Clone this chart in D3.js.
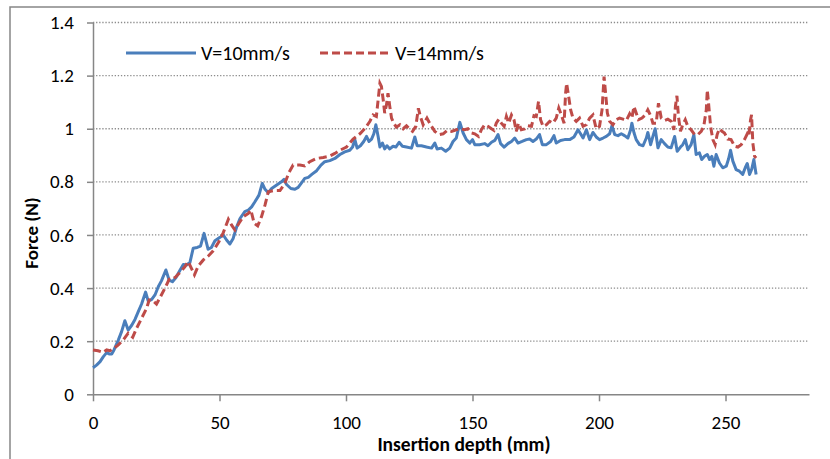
<!DOCTYPE html>
<html>
<head>
<meta charset="utf-8">
<script src="https://cdn.jsdelivr.net/npm/d3@7"></script>
<style>
  body { margin: 0; background: #fff; }
  svg text { font-family: Carlito, Calibri, Lato, sans-serif; fill: #000; }
</style>
</head>
<body>
<svg width="830" height="459"></svg>
<script>
// V=10mm/s
const depth10 = [0,1.4,2.8,4.1,5.4,6.4,7.4,8.3,10,11.3,12.6,13.9,15.3,16.6,17.9,19.2,20.8,21.8,23.2,24.5,25.8,27.1,28.8,30.1,31.4,32.8,34.1,35.7,37,38.3,39.6,41.2,42.5,43.9,45.5,46.8,48.2,50.2,51.5,52.8,54.1,55.4,56.8,58.1,60,61.4,62.7,64,65.6,66.9,68,69.3,70.6,72.6,74.5,75.5,76.5,78.2,79.8,81.1,82.7,83.7,85.1,86.6,88.4,90.1,91.6,93.6,95.6,97.6,99.5,101.5,102.6,103.5,104.4,105.7,107,108.1,109.1,110.1,111,111.8,112.7,113.4,114.4,115.3,116.2,117.3,118.6,119.7,121,122.3,123.9,125.9,127.2,128.1,129.8,131.8,133.8,135.1,136,137.7,139.4,141,142.3,143.6,145,146.3,147.6,148.9,150,150.9,152.8,154.8,156.1,157.5,158.8,160.1,161.1,162.5,164,165.4,166.7,168,169.6,171.3,172.6,173.9,175.2,176.5,177.6,179.2,180.9,182.2,183.1,184.8,186.4,188.4,190.1,191.7,192.7,193.7,195,196.3,197.6,198.9,200.2,201.6,202.9,204.2,205.1,206.2,207.5,208.8,210.1,211.4,212.5,213,213.8,214.7,216,217.4,218.7,219.3,220.4,221.3,222.2,223.3,224.6,225.9,227.2,228.5,229.9,230.9,232.2,233.1,234.1,235.1,236.4,237.5,238.4,239.7,240.6,241.7,242.8,243.7,244.6,245.4,246.3,247.6,248.9,250.3,251.2,252,252.9,254.2,255.5,256.8,257.8,258.6,259.5,260.4,261.2,262.1]
const force10 = [0.10,0.11,0.123,0.142,0.157,0.152,0.152,0.167,0.204,0.236,0.277,0.242,0.26,0.282,0.311,0.34,0.385,0.352,0.357,0.374,0.405,0.428,0.468,0.43,0.424,0.44,0.462,0.489,0.487,0.496,0.55,0.553,0.558,0.606,0.546,0.553,0.578,0.591,0.6,0.581,0.566,0.587,0.631,0.662,0.688,0.694,0.706,0.725,0.75,0.794,0.772,0.759,0.775,0.788,0.8,0.809,0.79,0.775,0.772,0.779,0.8,0.813,0.817,0.829,0.842,0.863,0.876,0.88,0.888,0.903,0.913,0.919,0.931,0.959,0.927,0.936,0.952,0.971,0.952,0.961,0.981,1.015,0.971,0.931,0.946,0.924,0.936,0.924,0.934,0.931,0.949,0.934,0.931,0.927,0.969,0.936,0.936,0.931,0.927,0.946,0.924,0.927,0.915,0.927,0.952,0.965,1.024,0.984,0.959,0.946,0.959,0.94,0.94,0.944,0.936,0.949,0.956,0.978,0.944,0.931,0.944,0.952,0.965,0.946,0.952,0.959,0.961,0.952,0.961,0.978,0.94,0.94,0.952,0.974,0.946,0.956,0.959,0.959,0.969,0.996,0.981,0.965,0.996,0.959,0.986,0.969,0.959,0.965,0.971,0.981,1.011,0.978,0.974,0.981,0.974,0.965,0.996,1.021,0.986,0.959,0.94,0.936,0.965,0.986,0.94,0.971,1.0,0.928,0.959,0.944,0.931,0.928,0.971,0.915,0.931,0.94,0.959,0.921,0.94,0.978,0.903,0.909,0.884,0.896,0.903,0.884,0.896,0.859,0.903,0.871,0.853,0.859,0.886,0.919,0.878,0.846,0.84,0.828,0.853,0.869,0.828,0.849,0.884,0.828]

// V=14mm/s
const depth14 = [0,2,4,5.4,6.7,8.3,10,12,13.9,15.7,17.2,19.2,21.2,22.2,23.6,25.1,26.7,28.4,30.1,31.4,32.8,34.3,36.3,37.6,40.1,41.6,43.6,45.5,47.5,49.8,51.5,53.5,54.8,56.1,57.7,59.4,61.4,62.4,63.7,65.1,66.6,68,69.3,71.2,73.9,75.8,77.4,79.1,81.8,83.7,85.7,88.4,91,93.6,95.6,97.6,100.2,102.8,105.5,107.4,109.4,110.7,112,112.7,113.4,114,114.7,115.3,116,116.6,117.3,118,118.9,119.9,121.3,122.6,123.9,125,126.3,127.6,128.6,129.4,130.5,132,133.4,135.1,136.8,138.4,140,141.7,143.6,145.2,146.9,148.2,149.6,150.9,152.4,153.5,154.8,156.1,157.5,158.5,159.4,160.4,161.4,162.5,163.4,164.3,165.4,166.4,167.3,168.2,169.3,170.6,171.9,173.3,174.3,175.2,176.1,176.9,177.9,179.2,180.5,181.8,183.1,184.1,185.1,186.2,186.8,187.2,188,188.8,189.7,191,192.3,193.7,195,196.3,197.6,198.9,200.2,201.2,202,202.6,203.3,204.2,205.5,206.8,208.1,209.5,210.8,212.1,213,213.8,214.7,215.6,217,218.3,219.3,220.4,221.3,222.6,223.5,224.6,225.9,227.2,228.5,229.6,230.2,230.8,231.4,232.2,233.1,234.1,235.1,236.4,237.8,239.1,240.4,241.4,242.4,242.8,243.3,244.1,245,245.9,246.7,247.6,248.6,249.6,250.9,252.2,253.6,254.9,256.2,257.5,258.6,259.2,259.9,260.3,260.8,261.5,262.1]
const force14 = [0.167,0.164,0.158,0.167,0.164,0.173,0.186,0.205,0.23,0.215,0.248,0.286,0.324,0.355,0.353,0.34,0.368,0.399,0.433,0.433,0.443,0.458,0.48,0.5,0.45,0.483,0.506,0.52,0.54,0.575,0.609,0.659,0.637,0.619,0.644,0.669,0.681,0.694,0.644,0.634,0.669,0.713,0.763,0.767,0.767,0.794,0.834,0.863,0.863,0.86,0.876,0.888,0.892,0.897,0.907,0.919,0.931,0.961,0.981,1.0,1.027,1.052,1.046,1.109,1.171,1.159,1.109,1.059,1.09,1.134,1.084,1.04,1.021,1.006,1.015,1.0,1.011,1.0,0.99,1.009,1.077,1.046,1.015,1.04,1.015,0.99,0.978,0.981,0.994,0.99,0.996,1.0,0.996,1.0,0.984,0.981,0.971,0.996,1.015,1.009,1.0,0.994,1.021,1.036,1.021,1.009,1.046,1.021,1.052,1.034,0.99,1.021,0.996,0.999,1.011,1.009,1.049,1.046,1.103,1.034,1.009,1.015,1.028,1.021,1.04,1.078,1.052,1.021,1.134,1.171,1.121,1.071,1.04,1.028,1.04,1.009,1.015,1.04,1.052,1.0,1.009,1.071,1.196,1.134,1.059,1.028,1.015,1.034,1.04,1.036,1.031,1.056,1.04,1.084,1.059,1.034,1.04,1.052,1.071,1.049,1.021,1.021,1.096,1.04,1.031,1.036,1.028,0.996,1.084,1.124,1.046,0.99,1.015,1.034,1.009,0.996,0.978,0.978,0.99,1.009,1.071,1.146,1.096,1.009,0.959,0.94,0.978,1.0,0.99,0.984,0.961,0.959,0.934,0.931,0.94,0.959,0.981,0.971,1.034,1.052,0.946,0.896,0.89]

const xTicks = [0, 50, 100, 150, 200, 250]
const yTicks = [0, 0.2, 0.4, 0.6, 0.8, 1, 1.2, 1.4]
const seriesNames = ['V=10mm/s', 'V=14mm/s']

const svg = d3.select('svg')
const margin = { top: 22.5, left: 93, right: 21, bottom: 65 }
const width = +svg.attr('width')

const blue = '#4a7ebb'
const red = '#be4b48'
const axisColor = '#868686'

// chart frame (cropped on the right / bottom)
svg.append('rect')
  .attr('x', 10).attr('y', 7)
  .attr('width', 900).attr('height', 500)
  .attr('fill', 'none')
  .attr('stroke', axisColor)
  .attr('stroke-width', 1.5)

const xScale = d3.scaleLinear()
  .domain([0, 283])
  .range([margin.left, width - margin.right])

const yScale = d3.scaleLinear()
  .domain([0, 1.4])
  .range([394.3, margin.top])

// gridlines
svg.append('g')
  .selectAll('line')
  .data(yTicks.filter(d => d > 0))
  .enter().append('line')
  .attr('x1', xScale(0)).attr('x2', xScale(283))
  .attr('y1', d => yScale(d)).attr('y2', d => yScale(d))
  .attr('stroke', '#8c8c8c')
  .attr('stroke-width', 1.3)
  .attr('stroke-dasharray', '1.3,1.8')

const yAxis = d3.axisLeft(yScale)
  .tickValues(yTicks)
  .tickFormat(d3.format('~g'))
  .tickSize(6)
  .tickSizeOuter(0)
  .tickPadding(13)

const yAxisGroup = svg.append('g')
  .attr('transform', `translate(${xScale(0)},0)`)
  .call(yAxis)

const xAxis = d3.axisBottom(xScale)
  .tickValues(xTicks)
  .tickSize(7)
  .tickSizeOuter(0)
  .tickPadding(14)

const xAxisGroup = svg.append('g')
  .attr('transform', `translate(0,${yScale(0)})`)
  .call(xAxis)

;[xAxisGroup, yAxisGroup].forEach(g => {
  g.selectAll('.domain, .tick line')
    .attr('stroke', axisColor)
    .attr('stroke-width', 1.5)
  g.selectAll('.tick text')
    .style('font-family', 'Carlito, Calibri, Lato, sans-serif')
    .style('font-size', '19px')
    .attr('fill', '#000')
})

const line = d3.line()
  .x(d => xScale(d[0]))
  .y(d => yScale(d[1]))

svg.append('path')
  .datum(d3.zip(depth10, force10))
  .attr('d', line)
  .attr('fill', 'none')
  .attr('stroke', blue)
  .attr('stroke-width', 3)
  .attr('stroke-linejoin', 'round')

svg.append('path')
  .datum(d3.zip(depth14, force14))
  .attr('d', line)
  .attr('fill', 'none')
  .attr('stroke', red)
  .attr('stroke-width', 3)
  .attr('stroke-dasharray', '8,4')

// legend
const legend = svg.append('g')
const legendItems = [
  { name: seriesNames[0], color: blue, dash: null, x: 126 },
  { name: seriesNames[1], color: red, dash: '8,4', x: 320 }
]
legendItems.forEach(it => {
  legend.append('line')
    .attr('x1', it.x).attr('x2', it.x + 70)
    .attr('y1', 53).attr('y2', 53)
    .attr('stroke', it.color)
    .attr('stroke-width', 3)
    .attr('stroke-dasharray', it.dash)
  legend.append('text')
    .attr('x', it.x + 75)
    .attr('y', 60)
    .style('font-size', '20px')
    .text(it.name)
})

svg.append('text')
  .attr('x', 464)
  .attr('y', 451)
  .attr('text-anchor', 'middle')
  .style('font-size', '19.5px')
  .style('font-weight', 'bold')
  .text('Insertion depth (mm)')

svg.append('text')
  .attr('transform', 'translate(38,233) rotate(-90)')
  .attr('text-anchor', 'middle')
  .style('font-size', '19px')
  .style('font-weight', 'bold')
  .text('Force (N)')
</script>
</body>
</html>
